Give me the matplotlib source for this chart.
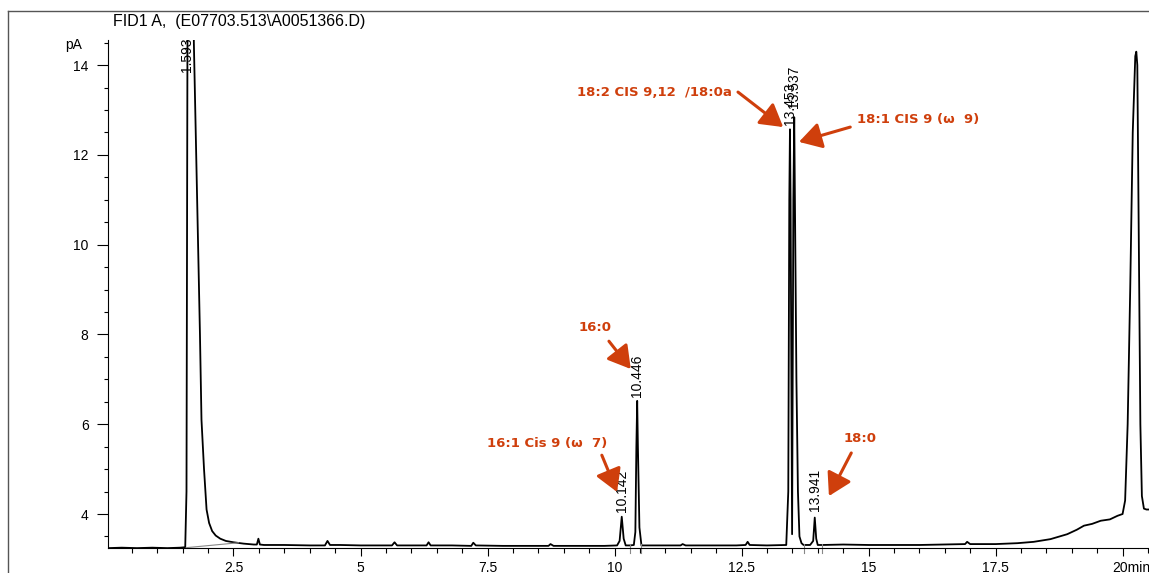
import matplotlib
matplotlib.use("Agg")
import matplotlib.pyplot as plt
from matplotlib.lines import Line2D
from matplotlib.ticker import MultipleLocator

# trace (time in min, signal in pA)
time_min = [0.03, 0.3, 0.6, 0.9, 1.2, 1.45, 1.55, 1.575, 1.59, 1.60, 1.70, 1.72, 1.76, 1.80,
            1.84, 1.87, 1.92, 1.97, 2.02, 2.08, 2.15, 2.24, 2.35, 2.5, 2.7, 2.9, 2.96, 2.99,
            3.02, 3.1, 3.5, 4.0, 4.3, 4.35, 4.4, 4.6, 5.0, 5.4, 5.62, 5.67, 5.72, 6.0, 6.30,
            6.34, 6.38, 6.8, 7.18, 7.22, 7.27, 7.8, 8.3, 8.7, 8.74, 8.8, 9.3, 9.8, 10.05,
            10.10, 10.142, 10.18, 10.22, 10.30, 10.38, 10.41, 10.43, 10.446, 10.46, 10.49,
            10.53, 10.6, 11.0, 11.3, 11.34, 11.4, 11.9, 12.4, 12.58, 12.62, 12.66, 13.0,
            13.38, 13.42, 13.44, 13.453, 13.465, 13.495, 13.52, 13.537, 13.55, 13.58, 13.61,
            13.64, 13.68, 13.72, 13.85, 13.91, 13.941, 13.97, 14.0, 14.1, 14.5, 15.0, 15.5,
            16.0, 16.5, 16.9, 16.94, 17.0, 17.5, 17.93, 18.25, 18.58, 18.91, 19.1, 19.24,
            19.4, 19.57, 19.75, 19.9, 20.0, 20.05, 20.10, 20.15, 20.20, 20.25, 20.27, 20.29,
            20.32, 20.35, 20.38, 20.42, 20.47, 20.52]
signal_pa = [3.24, 3.25, 3.24, 3.25, 3.24, 3.25, 3.26, 4.5, 12.0, 18.0, 18.0, 14.5, 12.3, 10.0,
             8.0, 6.1, 5.0, 4.1, 3.8, 3.62, 3.52, 3.45, 3.40, 3.37, 3.34, 3.32, 3.32, 3.45,
             3.32, 3.31, 3.31, 3.30, 3.30, 3.40, 3.31, 3.31, 3.30, 3.30, 3.30, 3.37, 3.30, 3.30,
             3.30, 3.37, 3.30, 3.30, 3.29, 3.36, 3.30, 3.29, 3.29, 3.29, 3.33, 3.29, 3.29, 3.29,
             3.30, 3.40, 3.94, 3.45, 3.30, 3.30, 3.31, 3.60, 5.50, 6.52, 5.50, 3.70,
             3.30, 3.30, 3.30, 3.30, 3.33, 3.30, 3.30, 3.30, 3.31, 3.38, 3.31, 3.30,
             3.31, 4.5, 11.0, 12.57, 11.0, 3.55, 11.0, 12.84, 11.0, 7.0, 4.5,
             3.5, 3.35, 3.31, 3.31, 3.40, 3.92, 3.45, 3.31, 3.31, 3.32, 3.31, 3.31,
             3.31, 3.32, 3.33, 3.38, 3.33, 3.33, 3.35, 3.38, 3.44, 3.55, 3.65, 3.74,
             3.78, 3.85, 3.88, 3.96, 4.00, 4.3, 6.0, 9.0, 12.5, 14.2, 14.3, 14.0,
             10.0, 6.0, 4.4, 4.12, 4.10, 4.10]

# labelled peaks: retention time, apex height, label gap in px
peak_rt = [10.142, 10.446, 13.453, 13.537, 13.941]
peak_top = [3.94, 6.52, 12.57, 12.84, 3.92]
peak_gap = [5, 4, 4, 9, 7]

xtick_vals = [2.5, 5, 7.5, 10, 12.5, 15, 17.5, 20]
xtick_labels = ["2.5", "5", "7.5", "10", "12.5", "15", "17.5", ""]
ytick_vals = [4, 6, 8, 10, 12, 14]

W, H = 1149, 573
red = "#CF3F0C"
plt.rcParams["font.family"] = ["Liberation Sans", "DejaVu Sans"]

fig = plt.figure(figsize=(W / 100, H / 100), dpi=100)
ax = fig.add_axes([108 / W, (H - 548.3) / H, (W - 108) / W, (548.3 - 40) / H])

ax.plot(time_min, signal_pa, color="black", lw=1.3)
# integration baseline under the solvent peak
ax.plot([1.57, 2.6], [3.25, 3.36], color="#888888", lw=0.8)
for t in [10.30, 10.53, 13.72, 14.09]:
    ax.plot([t, t], [3.34, 3.13], color="#888888", lw=0.8, clip_on=False)

ax.set_xlim(0.03, 20.52)
ax.set_ylim(3.236, 14.56)

for s in ["top", "right"]:
    ax.spines[s].set_visible(False)
for s in ["left", "bottom"]:
    ax.spines[s].set_linewidth(0.8)

ax.set_xticks(xtick_vals)
ax.set_xticklabels(xtick_labels)
ax.set_yticks(ytick_vals)
ax.xaxis.set_minor_locator(MultipleLocator(0.5))
ax.yaxis.set_minor_locator(MultipleLocator(0.5))
ax.tick_params(axis="x", which="major", length=6, width=0.8, labelsize=10, pad=3.5)
ax.tick_params(axis="x", which="minor", length=3.6, width=0.8)
ax.tick_params(axis="y", which="major", length=8, width=0.8, labelsize=10, pad=6)
ax.tick_params(axis="y", which="minor", length=2.6, width=0.8)

# retention time labels
ax.text(1.593, 13.84, "1.593", rotation=90, ha="center", va="bottom", fontsize=10)
for rt, top, gap in zip(peak_rt, peak_top, peak_gap):
    ax.annotate(f"{rt:.3f}", (rt, top), xytext=(0, gap), textcoords="offset pixels",
                rotation=90, ha="center", va="bottom", fontsize=10)

# compound annotations
notes = [
    ("18:2 CIS 9,12  /18:0a", (9.26, 13.40), (12.43, 13.40), (13.32, 12.62)),
    ("18:1 CIS 9 (ω  9)", (14.77, 12.78), (14.64, 12.62), (13.63, 12.29)),
    ("16:0", (9.30, 8.16), (9.89, 7.85), (10.32, 7.23)),
    ("16:1 Cis 9 (ω  7)", (7.49, 5.58), (9.75, 5.31), (10.05, 4.49)),
    ("18:0", (14.50, 5.69), (14.66, 5.36), (14.22, 4.40)),
]
for txt, pos, tail, tip in notes:
    ax.text(pos[0], pos[1], txt, ha="left", va="center", fontsize=9.5,
            fontweight="bold", color=red, family="DejaVu Sans")
    ax.annotate("", xy=tip, xytext=tail,
                arrowprops=dict(arrowstyle="-|>,head_length=0.85,head_width=0.5",
                                lw=2.2, color=red, shrinkA=0, shrinkB=0,
                                mutation_scale=16))

fig.text(113 / W, 1 - 21.5 / H, "FID1 A,  (E07703.513\\A0051366.D)", ha="left",
         va="center", fontsize=11.5)
fig.text(73.5 / W, 1 - 45 / H, "pA", ha="center", va="center", fontsize=10)
fig.text(1112 / W, 1 - 568 / H, "20min", ha="left", va="center", fontsize=10)

# window frame
fig.add_artist(Line2D([8 / W, 1], [1 - 11 / H, 1 - 11 / H], color="#555555", lw=1))
fig.add_artist(Line2D([8 / W, 8 / W], [0, 1 - 11 / H], color="#555555", lw=1))

fig.savefig("out.png", dpi=100)
